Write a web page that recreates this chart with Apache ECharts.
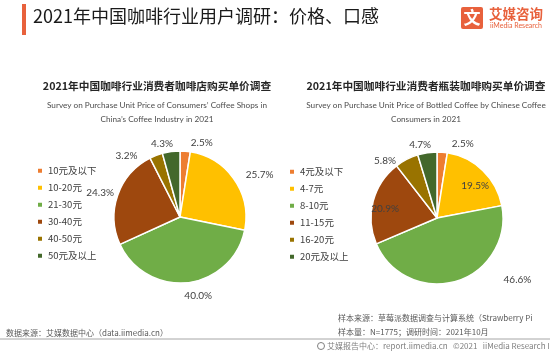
<!DOCTYPE html>
<html>
<head>
<meta charset="utf-8">
<script src="https://cdn.jsdelivr.net/npm/echarts@6/dist/echarts.min.js"></script>
<style>
  html, body { margin: 0; padding: 0; background: #fff; }
  #chart { width: 550px; height: 351px; }
</style>
</head>
<body>
<div id="chart"></div>
<script>
// 咖啡店购买单价
const shopCategories = ['10元及以下', '10-20元', '21-30元', '30-40元', '40-50元', '50元及以上'];
const shopValues = [2.5, 25.7, 40.0, 24.3, 3.2, 4.3];
// 瓶装咖啡购买单价
const bottleCategories = ['4元及以下', '4-7元', '8-10元', '11-15元', '16-20元', '20元及以上'];
const bottleValues = [2.5, 19.5, 46.6, 20.9, 5.8, 4.7];

const sliceColors = ['#ED7D31', '#FFC000', '#70AD47', '#9E480E', '#997300', '#43682B'];
const fontCn = '"Noto Sans CJK SC", "Noto Sans", sans-serif';
const fontEn = 'Lato, "Open Sans", sans-serif';

// 个别标签位置微调
const shopLabelTweak = [null, null, { offset: [-9, 5] }, { offset: [4, 0] }, null, { offset: [8, 0] }];
const bottleLabelTweak = [
  { offset: [4, 0] },
  { position: 'inside', offset: [13, -6] },
  { offset: [40, -9] },
  { position: 'inside', offset: [-17, 0] },
  { offset: [-2, 9] },
  { offset: [10, 0] }
];

const buildData = (cats, vals, tweaks) => cats.map((name, i) => {
  const item = { name, value: vals[i] };
  if (tweaks[i]) item.label = tweaks[i];
  return item;
});

const pieSeries = (cats, vals, tweaks, center) => ({
  type: 'pie',
  center,
  radius: 66,
  startAngle: 90,
  clockwise: true,
  silent: true,
  animation: false,
  data: buildData(cats, vals, tweaks),
  itemStyle: { borderColor: '#fff', borderWidth: 1.5 },
  label: {
    show: true,
    formatter: (p) => p.value.toFixed(1) + '%',
    color: '#404040',
    fontSize: 10,
    fontFamily: fontEn
  },
  labelLine: { show: false, length: 8, length2: 0 }
});

const legendBase = {
  orient: 'vertical',
  padding: 0,
  icon: 'rect', itemWidth: 6, itemHeight: 6, itemGap: 7.5,
  selectedMode: false,
  textStyle: { fontSize: 9.5, color: '#404040', fontFamily: fontCn }
};

const chart = echarts.init(document.getElementById('chart'), null, { renderer: 'canvas' });

const option = {
  color: sliceColors,
  animation: false,
  title: [
    {
      text: '2021年中国咖啡行业消费者咖啡店购买单价调查',
      left: 152, top: 76, textAlign: 'center',
      textStyle: { fontSize: 10.7, fontWeight: 'bold', color: '#262626', fontFamily: fontCn }
    },
    {
      text: 'Survey on Purchase Unit Price of Consumers\u2019 Coffee Shops in\nChina\u2019s Coffee Industry in 2021',
      left: 152, top: 93, textAlign: 'center',
      textStyle: { fontSize: 8.2, fontWeight: 'normal', color: '#4d4d4d', lineHeight: 14, fontFamily: fontEn }
    },
    {
      text: '2021年中国咖啡行业消费者瓶装咖啡购买单价调查',
      left: 421, top: 76, textAlign: 'center',
      textStyle: { fontSize: 10.7, fontWeight: 'bold', color: '#262626', fontFamily: fontCn }
    },
    {
      text: 'Survey on Purchase Unit Price of Bottled Coffee by Chinese Coffee\nConsumers in 2021',
      left: 421, top: 93, textAlign: 'center',
      textStyle: { fontSize: 8.2, fontWeight: 'normal', color: '#4d4d4d', lineHeight: 14, fontFamily: fontEn }
    }
  ],
  legend: [
    Object.assign({}, legendBase, { left: 36, top: 166, data: shopCategories }),
    Object.assign({}, legendBase, { left: 288, top: 167, data: bottleCategories })
  ],
  series: [
    pieSeries(shopCategories, shopValues, shopLabelTweak, [180, 217]),
    pieSeries(bottleCategories, bottleValues, bottleLabelTweak, [437, 218])
  ],
  graphic: [
    // 标题左侧色条
    { type: 'rect', shape: { x: 22, y: 4, width: 4, height: 31 }, style: { fill: '#E8613C' } },
    {
      type: 'text', left: 33, top: 7,
      style: { text: '2021年中国咖啡行业用户调研：价格、口感', fontSize: 18, fill: '#1a1a1a', fontFamily: fontCn }
    },
    // logo
    { type: 'rect', shape: { x: 461, y: 7, width: 22, height: 22, r: 2 }, style: { fill: '#E8613C' } },
    {
      type: 'text', x: 472, y: 18,
      style: { text: '文', fontSize: 17, fontWeight: 'bold', fill: '#fff', align: 'center', verticalAlign: 'middle', fontFamily: fontCn }
    },
    {
      type: 'text', x: 489, y: 14,
      style: { text: '艾媒咨询', fontSize: 13.5, fontWeight: 'bold', fill: '#E8613C', verticalAlign: 'middle', fontFamily: fontCn }
    },
    {
      type: 'text', x: 490, y: 26,
      style: { text: 'iiMedia Research', fontSize: 7, fill: '#E8613C', verticalAlign: 'middle', fontFamily: fontEn }
    },
    // 页脚
    {
      type: 'text', x: 338, y: 318,
      style: { text: '样本来源：草莓派数据调查与计算系统（Strawberry Pi', fontSize: 8, fill: '#595959', verticalAlign: 'middle', fontFamily: fontCn }
    },
    {
      type: 'text', x: 338, y: 332,
      style: { text: '样本量：N=1775；调研时间：2021年10月', fontSize: 8, fill: '#595959', verticalAlign: 'middle', fontFamily: fontCn }
    },
    {
      type: 'text', x: 6, y: 333,
      style: { text: '数据来源：艾媒数据中心（data.iimedia.cn）', fontSize: 8, fill: '#595959', verticalAlign: 'middle', fontFamily: fontCn }
    },
    { type: 'line', shape: { x1: 0, y1: 339, x2: 550, y2: 339 }, style: { stroke: '#a6a6a6', lineWidth: 1 } },
    {
      type: 'circle', shape: { cx: 321, cy: 346, r: 3.5 }, style: { fill: 'none', stroke: '#7f7f7f', lineWidth: 1 }
    },
    {
      type: 'text', x: 327, y: 346,
      style: { text: '艾媒报告中心：report.iimedia.cn   ©2021   iiMedia Research Inc', fontSize: 8, fill: '#7f7f7f', verticalAlign: 'middle', fontFamily: fontCn }
    }
  ]
};

chart.setOption(option);
</script>
</body>
</html>
